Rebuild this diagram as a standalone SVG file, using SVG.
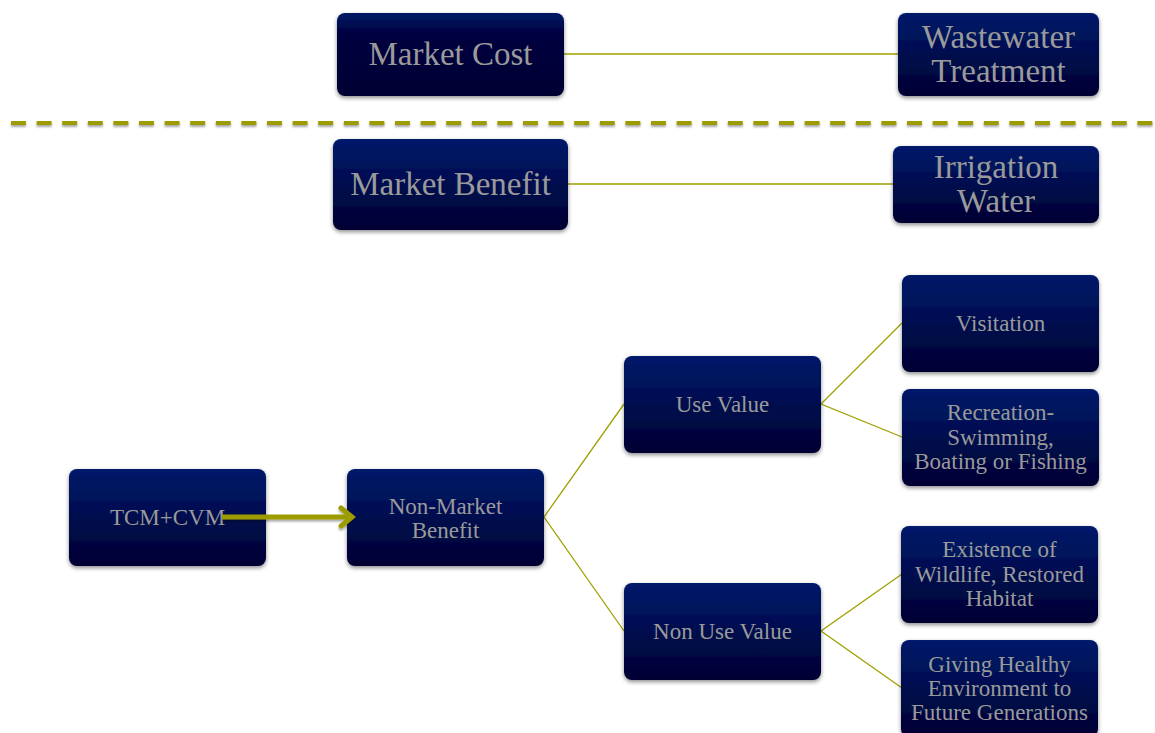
<svg xmlns="http://www.w3.org/2000/svg" width="1155" height="733" viewBox="0 0 1155 733">
<defs>
<linearGradient id="g" x1="0" y1="0" x2="0" y2="1">
<stop offset="0" stop-color="#001a6a"/>
<stop offset="1" stop-color="#000033"/>
</linearGradient>
<linearGradient id="gd" x1="0" y1="0" x2="0" y2="1">
<stop offset="0" stop-color="#001a66"/>
<stop offset="0.25" stop-color="#000040"/>
<stop offset="1" stop-color="#000033"/>
</linearGradient>
<filter id="sh" x="-10%" y="-10%" width="120%" height="130%">
<feDropShadow dx="0" dy="2" stdDeviation="2" flood-color="#000" flood-opacity="0.45"/>
</filter>
<filter id="lsh" filterUnits="userSpaceOnUse" x="0" y="0" width="1155" height="733">
<feDropShadow dx="0" dy="2" stdDeviation="1" flood-color="#000" flood-opacity="0.35"/>
</filter>
</defs>
<style>
.box{fill:url(#g);filter:url(#sh);}
.dark{fill:url(#gd);filter:url(#sh);}
.t{fill:#9a9a9a;text-anchor:middle;}
.big{font-size:33px;}
.sm{font-size:23px;}
.c{stroke:#a0a000;stroke-width:1.3;fill:none;}
</style>
<rect width="1155" height="733" fill="#ffffff"/>
<line x1="11" y1="123" x2="1155" y2="123" stroke="#9c9c00" stroke-width="4" stroke-dasharray="15 10.6" filter="url(#lsh)"/>
<g id="connectors">
<line class="c" x1="564" y1="54" x2="898" y2="54"/>
<line class="c" x1="568" y1="184" x2="893" y2="184"/>
<polyline class="c" points="624,404 544,517 624,631"/>
<polyline class="c" points="902,323 821,404 902,437"/>
<polyline class="c" points="902,574 821,631 902,688"/>
</g>
<g font-family="'Liberation Serif', 'Times New Roman', 'DejaVu Serif', serif">
<g id="market-cost"><rect class="dark" x="337" y="13" width="227" height="83" rx="8"/><text class="t big" x="450.5" y="65">Market Cost</text></g>
<g id="wastewater"><rect class="box" x="898" y="13" width="201" height="83" rx="8"/><text class="t big" x="998.5" y="48">Wastewater</text><text class="t big" x="998.5" y="82">Treatment</text></g>
<g id="market-benefit"><rect class="box" x="333" y="139" width="235" height="91" rx="8"/><text class="t big" x="450.5" y="195">Market Benefit</text></g>
<g id="irrigation"><rect class="box" x="893" y="146" width="206" height="77" rx="8"/><text class="t big" x="996" y="178">Irrigation</text><text class="t big" x="996" y="212">Water</text></g>
<g id="visitation"><rect class="box" x="902" y="275" width="197" height="97" rx="8"/><text class="t sm" x="1000.5" y="331">Visitation</text></g>
<g id="recreation"><rect class="box" x="902" y="389" width="197" height="97" rx="8"/><text class="t sm" x="1000.5" y="420">Recreation-</text><text class="t sm" x="1000.5" y="445">Swimming,</text><text class="t sm" x="1000.5" y="469">Boating or Fishing</text></g>
<g id="use-value"><rect class="box" x="624" y="356" width="197" height="97" rx="8"/><text class="t sm" x="722.5" y="412">Use Value</text></g>
<g id="non-use-value"><rect class="box" x="624" y="583" width="197" height="97" rx="8"/><text class="t sm" x="722.5" y="639">Non Use Value</text></g>
<g id="non-market"><rect class="box" x="347" y="469" width="197" height="97" rx="8"/><text class="t sm" x="445.5" y="514">Non-Market</text><text class="t sm" x="445.5" y="538">Benefit</text></g>
<g id="existence"><rect class="box" x="901" y="526" width="197" height="97" rx="8"/><text class="t sm" x="999.5" y="557">Existence of</text><text class="t sm" x="999.5" y="582">Wildlife, Restored</text><text class="t sm" x="999.5" y="606">Habitat</text></g>
<g id="giving"><rect class="box" x="901" y="640" width="197" height="97" rx="8"/><text class="t sm" x="999.5" y="672">Giving Healthy</text><text class="t sm" x="999.5" y="696">Environment to</text><text class="t sm" x="999.5" y="720">Future Generations</text></g>
<g id="tcm-cvm"><rect class="box" x="69" y="469" width="197" height="97" rx="8"/><text class="t sm" x="167.5" y="525">TCM+CVM</text></g>
</g>
<g id="arrow" filter="url(#lsh)">
<line x1="222" y1="517" x2="350" y2="517" stroke="#9c9c00" stroke-width="5"/>
<polyline points="341,508 352,517 341,526" stroke="#9c9c00" stroke-width="5" fill="none" stroke-linecap="round" stroke-linejoin="miter"/>
</g>
</svg>
